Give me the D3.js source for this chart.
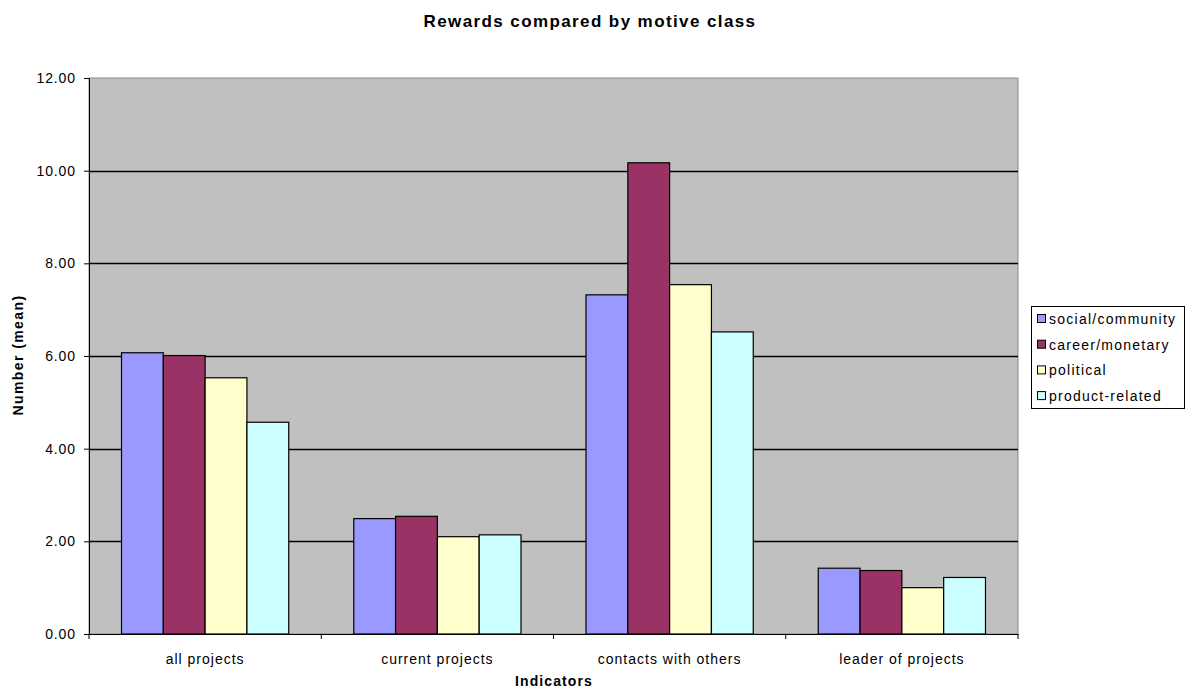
<!DOCTYPE html>
<html>
<head>
<meta charset="utf-8">
<script src="https://cdn.jsdelivr.net/npm/d3@7"></script>
<style>
  html, body { margin: 0; padding: 0; background: #fff; }
  svg text { font-family: "Liberation Sans", Arial, sans-serif; fill: #000; }
</style>
</head>
<body>
<svg id="chart" width="1196" height="695"></svg>
<script>
// Indicators on the x axis
const categories = ["all projects", "current projects", "contacts with others", "leader of projects"];
// Motive classes (one bar per class inside each indicator group)
const seriesNames = ["social/community", "career/monetary", "political", "product-related"];
// Mean values per motive class, in indicator order
const socialCommunity = [6.07, 2.49, 7.32, 1.42];
const careerMonetary  = [6.01, 2.54, 10.17, 1.37];
const political       = [5.53, 2.10, 7.54, 1.00];
const productRelated  = [4.57, 2.14, 6.52, 1.22];
const yTicks = [0, 2, 4, 6, 8, 10, 12];
const seriesColors = ["#9999ff", "#993366", "#ffffcc", "#ccffff"];

const seriesValues = [socialCommunity, careerMonetary, political, productRelated];

const svg = d3.select("#chart");
const plot = { left: 89, right: 1018, top: 78, bottom: 634 };

const x0 = d3.scaleBand().domain(categories).range([plot.left, plot.right]).paddingInner(0.28).paddingOuter(0.14);
const x1 = d3.scaleBand().domain(seriesNames).range([0, x0.bandwidth()]);
const y = d3.scaleLinear().domain([0, 12]).range([plot.bottom, plot.top]);

// plot background
svg.append("rect")
  .attr("x", plot.left).attr("y", plot.top)
  .attr("width", plot.right - plot.left).attr("height", plot.bottom - plot.top)
  .attr("fill", "#c0c0c0").attr("stroke", "#8a8a8a").attr("stroke-width", 1);

// horizontal gridlines
svg.append("g").selectAll("line")
  .data(yTicks.filter(t => t > 0 && t < 12))
  .join("line")
  .attr("x1", plot.left).attr("x2", plot.right)
  .attr("y1", d => Math.round(y(d)) + 0.5).attr("y2", d => Math.round(y(d)) + 0.5)
  .attr("stroke", "#000").attr("stroke-width", 1.5);

// bars
const groups = svg.append("g").selectAll("g")
  .data(categories)
  .join("g")
  .attr("transform", d => `translate(${x0(d)},0)`);

groups.selectAll("rect")
  .data((c, i) => seriesNames.map((s, j) => ({ s, j, v: seriesValues[j][i] })))
  .join("rect")
  .attr("x", d => x1(d.s))
  .attr("y", d => y(d.v))
  .attr("width", x1.bandwidth())
  .attr("height", d => y(0) - y(d.v))
  .attr("fill", d => seriesColors[d.j])
  .attr("stroke", "#000").attr("stroke-width", 1.2);

// y axis
const yAxis = d3.axisLeft(y).tickValues(yTicks).tickFormat(d3.format(".2f")).tickSize(5).tickPadding(8);
const gy = svg.append("g").attr("transform", `translate(${plot.left},0)`).call(yAxis);
gy.select(".domain").attr("stroke", "#000");
gy.selectAll(".tick line").attr("stroke", "#000");
gy.selectAll("text").attr("font-size", 14).style("letter-spacing", "0.9px").style("fill", "#000");

// x axis
const xAxis = d3.axisBottom(x0).tickSize(0).tickPadding(20);
const gx = svg.append("g").attr("transform", `translate(0,${plot.bottom})`).call(xAxis);
gx.select(".domain").attr("stroke", "#000");
gx.selectAll("text").attr("font-size", 14).style("letter-spacing", "1px").style("fill", "#000");

// category separator ticks
const step = (plot.right - plot.left) / categories.length;
svg.append("g").selectAll("line")
  .data(d3.range(categories.length + 1))
  .join("line")
  .attr("x1", d => plot.left + d * step).attr("x2", d => plot.left + d * step)
  .attr("y1", plot.bottom).attr("y2", plot.bottom + 5)
  .attr("stroke", "#000");

// titles
svg.append("text")
  .attr("x", 590).attr("y", 27)
  .attr("text-anchor", "middle")
  .attr("font-size", 17).attr("font-weight", "bold")
  .style("letter-spacing", "1.4px")
  .text("Rewards compared by motive class");

svg.append("text")
  .attr("transform", "translate(23,355) rotate(-90)")
  .attr("text-anchor", "middle")
  .attr("font-size", 14).attr("font-weight", "bold")
  .style("letter-spacing", "1.4px")
  .text("Number (mean)");

svg.append("text")
  .attr("x", 554).attr("y", 686)
  .attr("text-anchor", "middle")
  .attr("font-size", 14).attr("font-weight", "bold")
  .style("letter-spacing", "1.1px")
  .text("Indicators");

// legend
const legend = svg.append("g").attr("transform", "translate(1031,306)");
legend.append("rect")
  .attr("x", 0.5).attr("y", 0.5).attr("width", 153).attr("height", 102)
  .attr("fill", "#fff").attr("stroke", "#000");
const items = legend.selectAll("g.item")
  .data(seriesNames)
  .join("g")
  .attr("class", "item")
  .attr("transform", (d, i) => `translate(0,${13 + i * 25.7})`);
items.append("rect")
  .attr("x", 6.5).attr("y", -4.5).attr("width", 8).attr("height", 8)
  .attr("fill", (d, i) => seriesColors[i]).attr("stroke", "#000");
items.append("text")
  .attr("x", 18).attr("y", 5)
  .attr("font-size", 14)
  .style("letter-spacing", "1.25px")
  .text(d => d);
</script>
</body>
</html>
